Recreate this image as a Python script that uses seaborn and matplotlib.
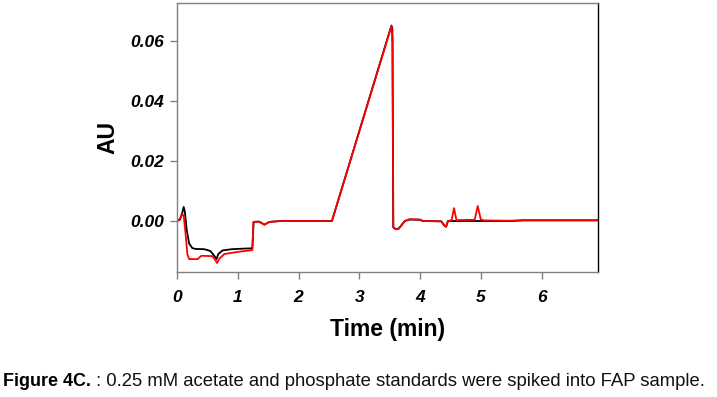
import matplotlib
matplotlib.use("Agg")
import matplotlib.pyplot as plt
import seaborn as sns
import pandas as pd

# Black trace (sample) breakpoints: time (min), absorbance (AU)
black_t = [0.00, 0.05, 0.09, 0.11, 0.13, 0.16, 0.20, 0.25, 0.30, 0.45, 0.55, 0.62,
           0.65, 0.68, 0.75, 0.90, 1.10, 1.24, 1.26, 1.35, 1.44, 1.52, 1.70, 2.55,
           3.53, 3.545, 3.56, 3.60, 3.65, 3.75, 3.83, 4.00, 4.05, 4.35, 4.40, 4.43,
           4.46, 5.50, 5.70, 6.93]
black_v = [0.0000, 0.0005, 0.0030, 0.0047, 0.0030, -0.0030, -0.0075, -0.0090, -0.0093,
           -0.0094, -0.0100, -0.0118, -0.0127, -0.0110, -0.0098, -0.0094, -0.0092,
           -0.0091, -0.0003, -0.0002, -0.0012, -0.0003, 0.0000, 0.0000, 0.0652,
           0.0640, -0.0020, -0.0027, -0.0025, 0.0000, 0.0005, 0.0004, 0.0000,
           -0.0001, -0.0015, -0.0018, 0.0000, 0.0000, 0.0002, 0.0002]

# Red trace (spiked sample) breakpoints
red_t = [0.00, 0.05, 0.09, 0.11, 0.14, 0.17, 0.20, 0.34, 0.40, 0.58, 0.63, 0.66,
         0.70, 0.78, 1.00, 1.24, 1.26, 1.35, 1.44, 1.52, 1.70, 2.55, 3.53, 3.55,
         3.56, 3.60, 3.65, 3.75, 3.83, 4.00, 4.05, 4.35, 4.40, 4.43, 4.46, 4.52,
         4.56, 4.60, 4.90, 4.95, 5.00, 5.05, 5.50, 5.70, 6.93]
red_v = [0.0000, 0.0008, 0.0023, 0.0018, -0.0040, -0.0110, -0.0127, -0.0127, -0.0116,
         -0.0117, -0.0130, -0.0140, -0.0125, -0.0110, -0.0103, -0.0097, -0.0003,
         -0.0002, -0.0012, -0.0003, 0.0000, 0.0000, 0.0650, 0.0600, -0.0022,
         -0.0028, -0.0026, 0.0000, 0.0006, 0.0005, 0.0000, -0.0001, -0.0015,
         -0.0020, 0.0000, 0.0003, 0.0043, 0.0003, 0.0004, 0.0050, 0.0006, 0.0002,
         0.0001, 0.0003, 0.0003]

x_ticks = [0, 1, 2, 3, 4, 5, 6]
y_ticks = [0.00, 0.02, 0.04, 0.06]
y_tick_labels = ["0.00", "0.02", "0.04", "0.06"]

sns.set_theme(style="white")
plt.rcParams["font.family"] = ["Liberation Sans", "DejaVu Sans"]

fig = plt.figure(figsize=(7.17, 3.97), dpi=100)
ax = fig.add_axes([177 / 717, 1 - 272 / 397, (598 - 177) / 717, (272 - 3) / 397])

df_black = pd.DataFrame({"t": black_t, "v": black_v})
df_red = pd.DataFrame({"t": red_t, "v": red_v})
sns.lineplot(data=df_black, x="t", y="v", ax=ax, color="black", lw=1.3, estimator=None)
sns.lineplot(data=df_red, x="t", y="v", ax=ax, color="#ff0000", lw=1.3, estimator=None)

ax.set_xlim(0, 6.93)
ax.set_ylim(-0.017, 0.0727)
ax.set_xticks(x_ticks)
ax.set_xticklabels([str(v) for v in x_ticks])
ax.set_yticks(y_ticks)
ax.set_yticklabels(y_tick_labels)
for lab in ax.get_xticklabels() + ax.get_yticklabels():
    lab.set_fontweight("bold")
    lab.set_fontstyle("italic")
    lab.set_fontsize(12.5)
    lab.set_color("black")

ax.tick_params(axis="both", direction="out", length=5, width=1, color="#808080",
               left=True, bottom=True, pad=8)
ax.tick_params(axis="y", pad=4)

for side in ["left", "top", "bottom"]:
    ax.spines[side].set_color("#808080")
    ax.spines[side].set_linewidth(1)
ax.spines["right"].set_color("black")
ax.spines["right"].set_linewidth(1)

ax.set_xlabel("Time (min)", fontsize=16.5, fontweight="bold", color="black", labelpad=9)
ax.set_ylabel("AU", fontsize=16.5, fontweight="bold", color="black", labelpad=8)

fig.text(3 / 717, 1 - 381 / 397, "Figure 4C.", fontsize=12.9, fontweight="bold",
         color="black", va="center", ha="left")
fig.text(96 / 717, 1 - 381 / 397,
         ": 0.25 mM acetate and phosphate standards were spiked into FAP sample.",
         fontsize=13.3, color="#111111", va="center", ha="left")

fig.savefig("out.png", dpi=100)
